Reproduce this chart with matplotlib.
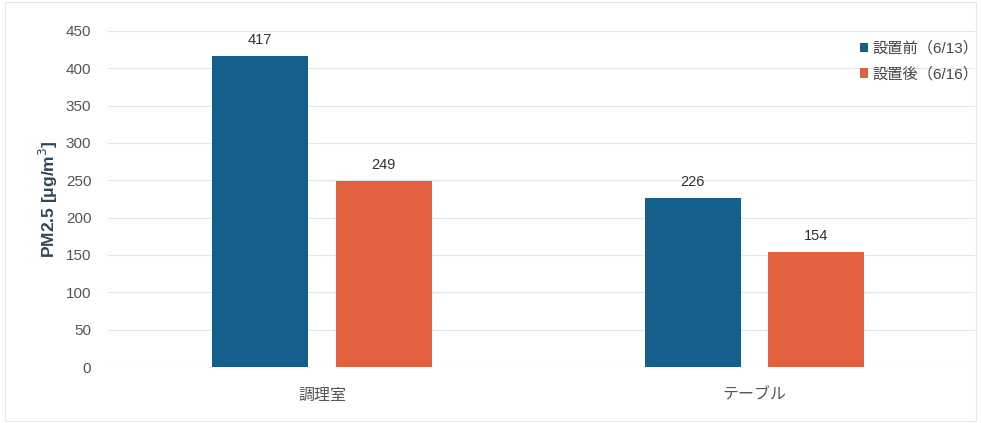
import numpy as np
import matplotlib.pyplot as plt

plt.rcParams['font.family'] = ['Liberation Sans', 'Noto Sans CJK JP', 'DejaVu Sans']

# Data
categories = ['調理室', 'テーブル']
series_names = ['設置前（6/13）', '設置後（6/16）']
before = [417, 226]
after = [249, 154]
yticks = [0, 50, 100, 150, 200, 250, 300, 350, 400, 450]

blue = '#155f8c'
orange = '#e2603d'

fig = plt.figure(figsize=(9.81, 4.23), dpi=100)
ax = fig.add_axes([108 / 981, 1 - 367 / 423, (975 - 108) / 981, 336 / 423])

x = np.arange(len(categories))
width = 0.222
offset = 0.143

b1 = ax.bar(x - offset, before, width, color=blue, label=series_names[0], zorder=3)
b2 = ax.bar(x + offset, after, width, color=orange, label=series_names[1], zorder=3)

for bars, vals in [(b1, before), (b2, after)]:
    for rect, v in zip(bars, vals):
        ax.text(rect.get_x() + rect.get_width() / 2, v + 12, str(v),
                ha='center', va='bottom', fontsize=10.5, color='#333333')

ax.set_xlim(-0.495, 1.51)
ax.set_ylim(0, 450)
ax.set_yticks(yticks)
ax.set_xticks(x)
ax.set_xticklabels(categories)
ax.tick_params(axis='both', length=0, colors='#555555', labelsize=11)
ax.tick_params(axis='x', pad=15, labelsize=11.5)
ax.tick_params(axis='y', pad=12)
ax.yaxis.grid(True, color='#dfe7ee', linewidth=0.8, zorder=0)
for s in ax.spines.values():
    s.set_visible(False)

ax.set_ylabel('PM2.5 [μg/m$^3$]', fontsize=12.5, fontweight='bold', color='#2d4659',
              labelpad=4)

leg = ax.legend(loc='upper right', bbox_to_anchor=(1.02, 1.01), frameon=False,
                handlelength=0.5, handleheight=0.6, handletextpad=0.3,
                labelspacing=0.7, fontsize=11)
for t in leg.get_texts():
    t.set_color('#444444')

# faint outer border
fig.patches.append(plt.Rectangle((0.005, 0.005), 0.99, 0.99, transform=fig.transFigure,
                                 fill=False, edgecolor='#e6e6e6', linewidth=0.8))

fig.savefig('out.png', dpi=100, facecolor='white')
